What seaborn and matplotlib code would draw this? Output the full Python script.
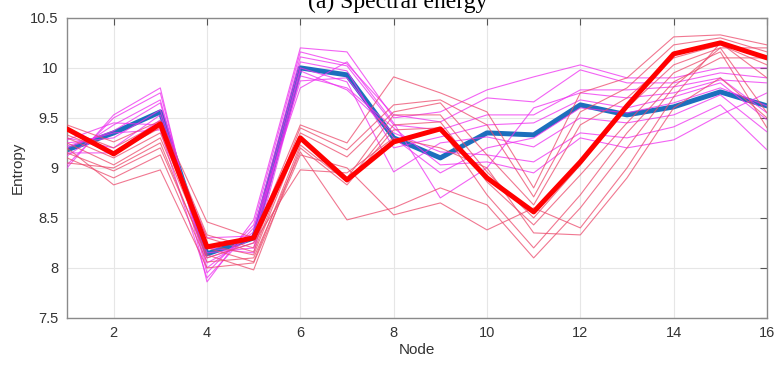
import numpy as np
import pandas as pd
import matplotlib
matplotlib.use("Agg")
import matplotlib.pyplot as plt
import seaborn as sns

# data
nodes = list(range(1, 17))

blue_mean = [9.18, 9.35, 9.56, 8.14, 8.30, 10.00, 9.93, 9.30,
             9.10, 9.35, 9.33, 9.63, 9.53, 9.61, 9.76, 9.62]
red_mean = [9.39, 9.14, 9.44, 8.21, 8.30, 9.30, 8.88, 9.26,
            9.39, 8.90, 8.56, 9.06, 9.62, 10.14, 10.25, 10.10]

# thin magenta traces (one row per trace)
magenta_lines = [
    [9.00, 9.53, 9.80, 7.86, 8.48, 10.20, 10.16, 9.50, 9.56, 9.78, 9.91, 10.03, 9.90, 9.90, 10.00, 10.00],
    [9.03, 9.50, 9.75, 7.95, 8.43, 10.16, 10.04, 9.53, 9.46, 9.70, 9.66, 9.98, 9.85, 9.85, 9.95, 9.90],
    [9.12, 9.43, 9.68, 8.00, 8.36, 10.11, 10.02, 9.43, 9.38, 9.53, 9.53, 9.78, 9.78, 9.81, 9.90, 9.55],
    [9.20, 9.37, 9.65, 8.05, 8.30, 10.06, 9.97, 9.20, 9.31, 9.43, 9.45, 9.68, 9.60, 9.71, 9.85, 9.48],
    [9.25, 9.30, 9.58, 8.10, 8.25, 10.00, 9.86, 8.96, 9.25, 9.31, 9.21, 9.50, 9.45, 9.53, 9.73, 9.36],
    [9.30, 9.20, 9.53, 8.15, 8.20, 9.97, 9.78, 9.35, 9.16, 9.13, 9.06, 9.35, 9.30, 9.41, 9.63, 9.18],
    [9.15, 9.15, 9.48, 8.20, 8.15, 9.92, 9.80, 9.40, 9.03, 9.06, 8.95, 9.30, 9.20, 9.28, 9.53, 9.75],
    [9.28, 9.45, 9.43, 8.30, 8.32, 9.87, 9.90, 9.30, 8.95, 9.20, 9.30, 9.60, 9.55, 9.65, 9.80, 9.62],
    [9.22, 9.35, 9.38, 7.90, 8.40, 9.80, 10.06, 9.45, 8.70, 9.00, 9.60, 9.75, 9.70, 9.75, 9.88, 9.85],
]

# thin pink/red traces
pink_lines = [
    [9.43, 9.26, 9.47, 8.46, 8.30, 9.43, 9.25, 9.91, 9.75, 9.56, 8.80, 9.75, 9.90, 10.31, 10.33, 10.23],
    [9.38, 9.20, 9.45, 8.33, 8.20, 9.40, 9.18, 9.63, 9.68, 9.43, 8.71, 9.56, 9.80, 10.23, 10.30, 10.16],
    [9.33, 9.15, 9.40, 8.30, 8.16, 9.35, 9.11, 9.56, 9.65, 9.13, 8.63, 9.43, 9.70, 10.10, 10.23, 10.03],
    [9.30, 9.10, 9.35, 8.23, 8.13, 9.30, 8.90, 9.53, 9.53, 8.96, 8.50, 9.03, 9.60, 10.03, 10.20, 9.55],
    [9.25, 9.03, 9.30, 8.20, 8.06, 9.23, 8.86, 9.43, 9.46, 8.86, 8.43, 8.93, 9.45, 9.95, 10.16, 9.40],
    [9.15, 8.97, 9.20, 8.13, 7.98, 9.20, 8.83, 9.38, 9.40, 8.73, 8.20, 8.73, 9.35, 9.86, 10.10, 10.10],
    [9.10, 8.90, 9.13, 8.06, 8.10, 9.16, 8.48, 8.60, 8.80, 8.63, 8.10, 8.60, 9.20, 9.81, 10.20, 10.20],
    [9.20, 8.83, 8.98, 8.00, 8.05, 9.13, 9.00, 8.53, 8.65, 8.38, 8.60, 8.40, 9.00, 9.71, 10.25, 9.90],
    [9.05, 9.00, 9.25, 8.10, 8.25, 8.98, 8.95, 9.30, 9.20, 9.00, 8.35, 8.33, 8.90, 9.60, 9.90, 9.50],
]

title = "(a) Spectral energy"
x_label = "Node"
y_label = "Entropy"

# long-format table for seaborn
rows = []
for k, vals in enumerate(magenta_lines):
    for n, v in zip(nodes, vals):
        rows.append({"Node": n, "Entropy": v, "trace": f"m{k}", "group": "magenta"})
for k, vals in enumerate(pink_lines):
    for n, v in zip(nodes, vals):
        rows.append({"Node": n, "Entropy": v, "trace": f"p{k}", "group": "pink"})
df = pd.DataFrame(rows)

sns.set_theme(style="whitegrid")
plt.rcParams["font.family"] = ["Liberation Sans", "DejaVu Sans"]

fig, ax = plt.subplots(figsize=(7.76, 3.65), dpi=100)
fig.subplots_adjust(left=0.0863, right=0.9884, top=0.951, bottom=0.129)

# thick blue mean first so the magenta traces tint it
sns.lineplot(x=nodes, y=blue_mean, ax=ax, color="#1c6fbd", linewidth=3.6, zorder=2)

sns.lineplot(data=df[df.group == "magenta"], x="Node", y="Entropy", units="trace",
             estimator=None, ax=ax, color="#ee2ef0", linewidth=0.8, alpha=0.75, zorder=3)
sns.lineplot(data=df[df.group == "pink"], x="Node", y="Entropy", units="trace",
             estimator=None, ax=ax, color="#ec4a6c", linewidth=0.8, alpha=0.75, zorder=3)

sns.lineplot(x=nodes, y=red_mean, ax=ax, color="#ff0000", linewidth=3.6, zorder=4)

ax.set_xlim(1, 16)
ax.set_ylim(7.5, 10.5)
ax.set_xticks(range(2, 17, 2))
ax.set_yticks(np.arange(7.5, 10.51, 0.5))
ax.set_yticklabels(["7.5", "8", "8.5", "9", "9.5", "10", "10.5"])

ax.set_facecolor("white")
ax.grid(True, color="#e6e6e6", linewidth=0.8)
for s in ax.spines.values():
    s.set_color("#8a8a8a")
    s.set_linewidth(1.0)
ax.tick_params(direction="in", length=5, width=0.8, color="#555555",
               top=True, right=True, labelsize=10.5, labelcolor="#333333", pad=6)

ax.set_xlabel(x_label, fontsize=11, color="#333333", labelpad=2)
ax.set_ylabel(y_label, fontsize=11, color="#333333", labelpad=4)

fig.text(0.513, 0.978, title, ha="center", va="baseline",
         fontsize=17, family=["Liberation Serif", "DejaVu Serif"], color="black")

fig.savefig("out.png", dpi=100, facecolor="white")
